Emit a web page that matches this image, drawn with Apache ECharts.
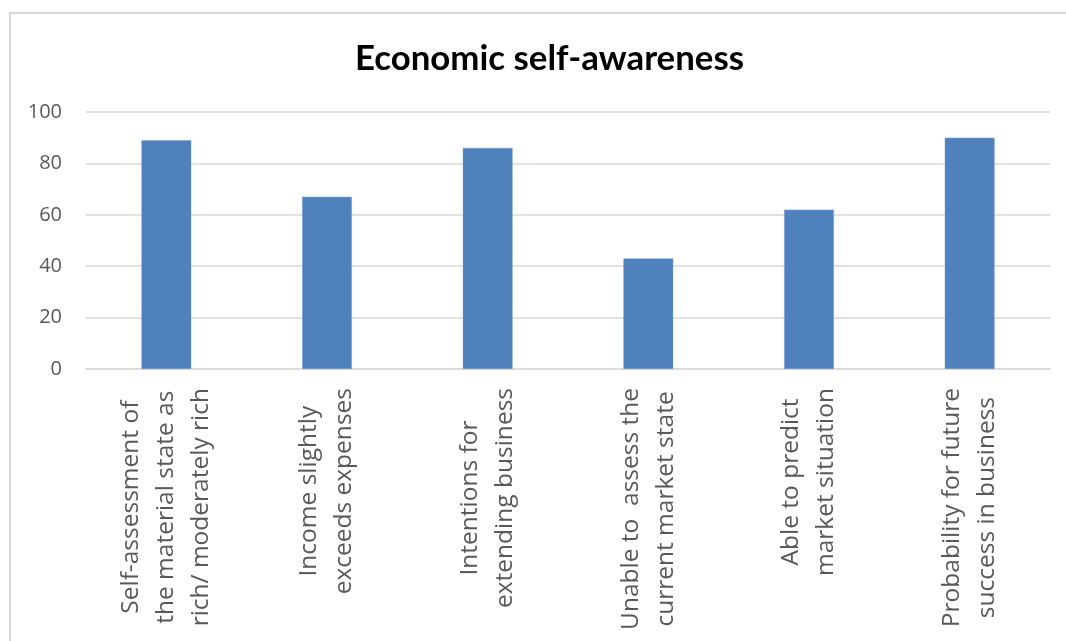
<!DOCTYPE html>
<html>
<head>
<meta charset="utf-8">
<title>Economic self-awareness</title>
<script src="https://cdn.jsdelivr.net/npm/echarts@6/dist/echarts.min.js"></script>
<style>
  html, body { margin: 0; padding: 0; background: #fff; }
  #chart { width: 1066px; height: 641px; }
</style>
</head>
<body>
<div id="chart"></div>
<script>
// categories (line breaks as in the picture)
var categories = [
  'Self-assessment of\nthe material state as\nrich/ moderately rich',
  'Income slightly\nexceeds expenses',
  'Intentions for\nextending business',
  'Unable to  assess the\ncurrent market state',
  'Able to predict\nmarket situation',
  'Probability for future\nsuccess in business'
];
var values = [89, 67, 86, 43, 62, 90];
var yTicks = [0, 20, 40, 60, 80, 100];

var LABEL_FONT = 'Open Sans';
var LABEL_SIZE = 24.5;
var LABEL_LH = 35;
var GREY = '#595959';

// lines of each rotated label are centred on the longest one (like Excel does)
// -> pad the shorter lines, measured with a canvas
var ctx = document.createElement('canvas').getContext('2d');
ctx.font = LABEL_SIZE + 'px "' + LABEL_FONT + '"';
var labelRich = {};
var labelText = categories.map(function (cat, ci) {
  var lines = cat.split('\n');
  var widths = lines.map(function (l) { return ctx.measureText(l).width; });
  var maxW = Math.max.apply(null, widths);
  return lines.map(function (l, li) {
    var name = 'c' + ci + '_' + li;
    labelRich[name] = {
      align: 'left',
      color: GREY,
      fontFamily: LABEL_FONT,
      fontSize: LABEL_SIZE,
      lineHeight: LABEL_LH,
      padding: [0, 0, 0, (maxW - widths[li]) / 2]
    };
    return '{' + name + '|' + l + '}';
  }).join('\n');
});

var chart = echarts.init(document.getElementById('chart'));

var option = {
  backgroundColor: '#ffffff',
  animation: false,
  title: {
    text: 'Economic self-awareness',
    left: 350,
    top: 36,
    textStyle: {
      fontFamily: 'Lato',
      fontWeight: 'bold',
      fontSize: 34.8,
      color: '#000000'
    }
  },
  graphic: [{
    // outer chart frame (left and top edges visible)
    type: 'rect',
    silent: true,
    shape: { x: 10, y: 13, width: 1200, height: 800 },
    style: { fill: 'none', stroke: '#d9d9d9', lineWidth: 2 }
  }],
  grid: {
    left: 86,
    right: 16,
    top: 112,
    bottom: 272,
    containLabel: false,
    outerBoundsMode: 'none'
  },
  xAxis: {
    type: 'category',
    data: categories,
    axisLine: { show: true, lineStyle: { color: '#d9d9d9', width: 1.5 } },
    axisTick: { show: false },
    axisLabel: {
      interval: 0,
      rotate: 90,
      margin: 19,
      color: GREY,
      fontFamily: LABEL_FONT,
      fontSize: LABEL_SIZE,
      lineHeight: LABEL_LH,
      formatter: function (v, idx) {
        return labelText[idx];
      },
      rich: labelRich
    }
  },
  yAxis: {
    type: 'value',
    min: yTicks[0],
    max: yTicks[yTicks.length - 1],
    interval: 20,
    axisLine: { show: false },
    axisTick: { show: false },
    axisLabel: {
      margin: 24,
      color: GREY,
      fontFamily: 'Open Sans',
      fontSize: 20
    },
    splitLine: { lineStyle: { color: '#d9d9d9', width: 1.5 } }
  },
  series: [{
    type: 'bar',
    data: values,
    barWidth: '31%',
    itemStyle: {
      color: '#4f81bd',
      borderColor: '#7a9fd0',
      borderWidth: 0.5
    }
  }]
};

chart.setOption(option);
</script>
</body>
</html>
